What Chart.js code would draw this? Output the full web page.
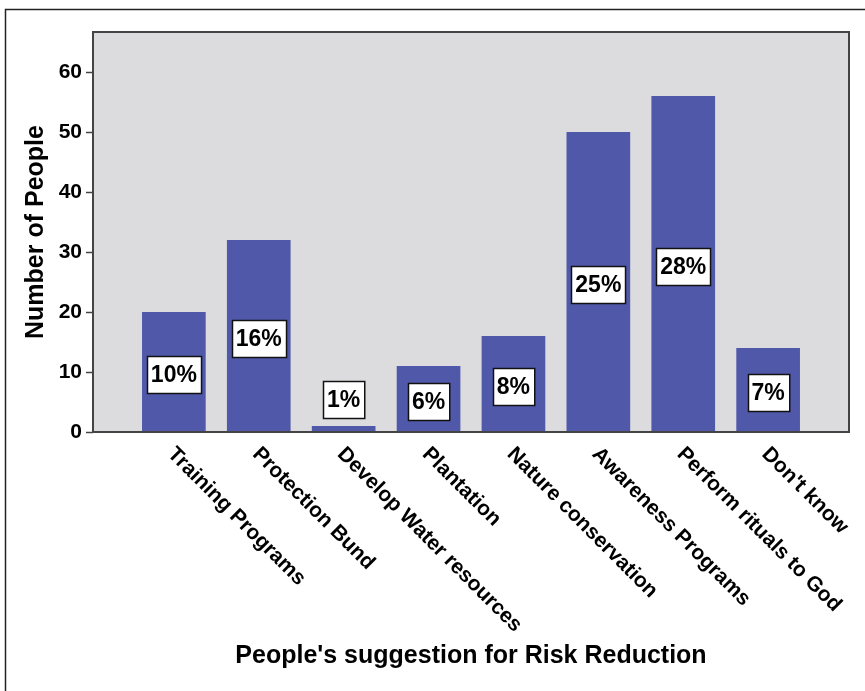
<!DOCTYPE html>
<html>
<head>
<meta charset="utf-8">
<script src="https://cdn.jsdelivr.net/npm/chart.js@4.4.1/dist/chart.umd.min.js"></script>
<style>
  html, body { margin: 0; padding: 0; background: #ffffff; }
  #wrap { position: relative; width: 865px; height: 691px; }
</style>
</head>
<body>
<div id="wrap"><canvas id="chart" width="865" height="691"></canvas></div>
<script>
// Survey responses: suggested measures for reducing risk
const categories = [
  'Training Programs',
  'Protection Bund',
  'Develop Water resources',
  'Plantation',
  'Nature conservation',
  'Awareness Programs',
  'Perform rituals to God',
  "Don't know"
];
const peopleCounts = [20, 32, 1, 11, 16, 50, 56, 14];
const yTicks = [0, 10, 20, 30, 40, 50, 60];

const totalPeople = peopleCounts.reduce((a, b) => a + b, 0);
const percentLabels = peopleCounts.map(v => Math.round(v / totalPeople * 100) + '%');

const FONT = "'Liberation Sans', Arial, Helvetica, sans-serif";
const BAR_BLUE = '#5058aa';
const PANEL_GRAY = '#dcdcdf';

// grey panel behind the bars, frame around it and the page border
const panelPlugin = {
  id: 'panel',
  beforeDraw(chart) {
    const { ctx, chartArea: a } = chart;
    ctx.save();
    ctx.fillStyle = PANEL_GRAY;
    ctx.fillRect(a.left, a.top, a.right - a.left, a.bottom - a.top);
    ctx.strokeStyle = '#222';
    ctx.lineWidth = 1.5;
    ctx.beginPath();
    ctx.moveTo(5.5, chart.height);
    ctx.lineTo(5.5, 9.5);
    ctx.lineTo(chart.width, 9.5);
    ctx.stroke();
    ctx.restore();
  },
  afterDraw(chart) {
    const { ctx, chartArea: a } = chart;
    ctx.save();
    ctx.strokeStyle = '#444';
    ctx.lineWidth = 2;
    ctx.strokeRect(a.left, a.top, a.right - a.left, a.bottom - a.top);
    ctx.restore();
  }
};

// boxed percentage labels on the bars
const boxLabelPlugin = {
  id: 'boxLabels',
  afterDatasetsDraw(chart) {
    const { ctx } = chart;
    const meta = chart.getDatasetMeta(0);
    const boxH = 37;
    ctx.save();
    ctx.font = 'bold 23px ' + FONT;
    ctx.textAlign = 'center';
    ctx.textBaseline = 'middle';
    meta.data.forEach((bar, i) => {
      const txt = percentLabels[i];
      const h = bar.base - bar.y;
      const cy = h > boxH + 10 ? (bar.y + bar.base) / 2 + 3 : bar.y - 8 - boxH / 2;
      const w = ctx.measureText(txt).width + 8;
      const x0 = Math.round(bar.x - w / 2) + 0.5;
      const y0 = Math.round(cy - boxH / 2) + 0.5;
      ctx.fillStyle = '#ffffff';
      ctx.fillRect(x0, y0, w, boxH);
      ctx.strokeStyle = '#111';
      ctx.lineWidth = 1.5;
      ctx.strokeRect(x0, y0, w, boxH);
      ctx.fillStyle = '#000';
      ctx.fillText(txt, bar.x, cy + 1);
    });
    ctx.restore();
  }
};

// slanted category names under the x axis
const categoryLabelPlugin = {
  id: 'categoryLabels',
  afterDraw(chart) {
    const { ctx } = chart;
    const xs = chart.scales.x;
    const top = chart.chartArea.bottom;
    ctx.save();
    ctx.font = 'bold 21px ' + FONT;
    ctx.fillStyle = '#000';
    ctx.textAlign = 'left';
    ctx.textBaseline = 'middle';
    categories.forEach((name, i) => {
      const x = xs.getPixelForValue(i);
      ctx.save();
      ctx.translate(x - 3, top + 19);
      ctx.rotate(Math.PI / 4);
      ctx.fillText(name, 0, 0);
      ctx.restore();
    });
    ctx.restore();
  }
};

new Chart(document.getElementById('chart'), {
  type: 'bar',
  data: {
    datasets: [{
      data: peopleCounts.map((v, i) => ({ x: i, y: v })),
      backgroundColor: BAR_BLUE,
      borderWidth: 0,
      barPercentage: 0.75,
      categoryPercentage: 1
    }]
  },
  options: {
    responsive: false,
    animation: false,
    events: [],
    layout: { padding: { top: 32, right: 16, left: 0, bottom: 0 } },
    plugins: { legend: { display: false }, tooltip: { enabled: false } },
    scales: {
      x: {
        type: 'linear',
        offset: false,
        min: -0.9525,
        max: 7.9525,
        afterFit(scale) { scale.height = 691 - 432; },
        afterBuildTicks(scale) { scale.ticks = categories.map((c, i) => ({ value: i })); },
        grid: { display: false, drawTicks: false, offset: false },
        border: { display: false },
        ticks: { display: false },
        title: {
          display: true,
          text: "People's suggestion for Risk Reduction",
          color: '#000',
          font: { family: FONT, size: 25, weight: 'bold' },
          padding: { top: 0, bottom: 20 }
        }
      },
      y: {
        min: 0,
        max: 66.67,
        afterFit(scale) { scale.width = 93; },
        afterBuildTicks(scale) { scale.ticks = yTicks.map(v => ({ value: v })); },
        grid: { drawOnChartArea: false, drawTicks: true, tickLength: 7, color: '#444', tickWidth: 1.5 },
        border: { display: false },
        ticks: {
          color: '#000',
          padding: 4,
          font: { family: FONT, size: 21, weight: 'bold' }
        },
        title: {
          display: true,
          text: 'Number of People',
          color: '#000',
          font: { family: FONT, size: 25, weight: 'bold' },
          padding: { top: 21, bottom: 0 }
        }
      }
    }
  },
  plugins: [panelPlugin, boxLabelPlugin, categoryLabelPlugin]
});
</script>
</body>
</html>
